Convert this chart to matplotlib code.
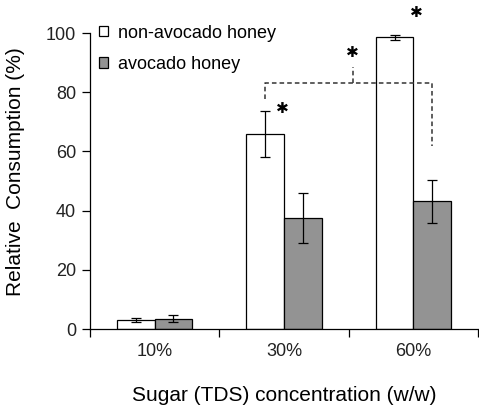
import matplotlib
matplotlib.use("Agg")
import matplotlib.pyplot as plt
import numpy as np

plt.rcParams['font.family'] = ['Liberation Sans', 'DejaVu Sans']

categories = ['10%', '30%', '60%']
non_avocado = [3.0, 66.0, 98.5]
non_avocado_err = [0.8, 7.8, 0.9]
avocado = [3.5, 37.5, 43.2]
avocado_err = [1.3, 8.5, 7.3]

fig = plt.figure(figsize=(4.79, 4.09), dpi=100)
ax = fig.add_axes([90/479, 1 - 329/409, (478-90)/479, (329-33)/409])
ax.set_ylim(0, 100)
ax.set_xlim(0, 3)

x = np.arange(len(categories)) + 0.5
w = 0.29
ek = dict(ecolor='black', elinewidth=0.9, capsize=3.5, capthick=0.9)
ax.bar(x - w/2, non_avocado, w, yerr=non_avocado_err, color='white',
       edgecolor='black', linewidth=0.9, error_kw=ek, label='non-avocado honey', zorder=2)
ax.bar(x + w/2, avocado, w, yerr=avocado_err, color='#939393',
       edgecolor='black', linewidth=0.9, error_kw=ek, label='avocado honey', zorder=2)

# significance bracket
xl = x[1] - w/2
xr = x[2] + w/2
xm = (xl + xr) / 2 + 0.03
dash = dict(color='#333333', lw=1.1, ls=(0, (3, 2)), zorder=5)
ax.plot([xl, xl, xr, xr], [77.7, 83.2, 83.2, 61.8], **dash)
ax.plot([xm, xm], [83.2, 88.6], **dash)
star = dict(family='DejaVu Sans', fontsize=11, ha='center', va='center', color='black')
ax.text(xm, 93.5, '✱', **star)
ax.text(x[1] - w/2 + 0.13, 74.5, '✱', **star)
ax.text(x[2] + 0.02, 107, '✱', clip_on=False, **star)

ax.spines['top'].set_visible(False)
ax.spines['right'].set_visible(False)
ax.spines['left'].set_linewidth(0.9)
ax.spines['bottom'].set_linewidth(0.9)
ax.set_yticks([0, 20, 40, 60, 80, 100])
ax.set_xticks([0, 1, 2, 3])
ax.set_xticklabels([])
ax.set_xticks(x, minor=True)
ax.set_xticklabels(categories, minor=True)
ax.tick_params(axis='x', which='major', direction='out', length=5.5, width=0.9)
ax.tick_params(axis='x', which='minor', length=0, pad=10, labelsize=13, labelcolor='#222222')
ax.tick_params(axis='y', direction='out', length=6, width=0.9, labelsize=13, labelcolor='#222222', pad=4)

ax.set_ylabel('Relative  Consumption (%)', fontsize=15)
ax.yaxis.set_label_coords(-0.168, 0.53)
ax.set_xlabel('Sugar (TDS) concentration (w/w)', fontsize=15, labelpad=19)

leg = ax.legend(loc='upper left', bbox_to_anchor=(-0.005, 1.065), frameon=False,
                fontsize=13, handlelength=0.5, handleheight=0.5, handletextpad=0.55,
                labelspacing=0.8, borderaxespad=0.2)

fig.savefig('out.png', dpi=100)
